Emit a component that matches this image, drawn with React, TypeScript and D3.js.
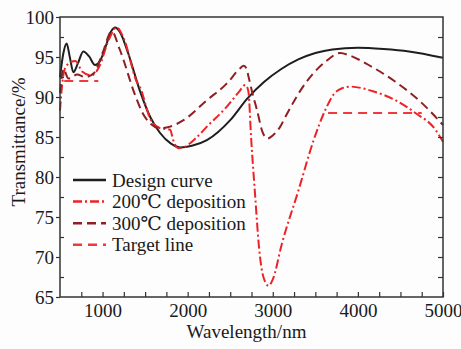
import * as d3 from "d3";
import React, { useRef, useEffect } from "react";

const W = 461;
const H = 349;
const margin = { top: 17, right: 18, bottom: 52, left: 60 };
const width = W - margin.left - margin.right;
const height = H - margin.top - margin.bottom;

// [wavelength nm, transmittance %]
const designCurve = [
  [500, 92.5], [540, 95.5], [578, 96.7], [615, 95], [657, 93.1], [710, 94.2],
  [774, 95.7], [840, 95.1], [912, 94.0], [970, 94.5], [1030, 96.1], [1100, 98.2],
  [1147, 98.7], [1200, 98.2], [1300, 95.5], [1441, 90.7], [1560, 87.5], [1676, 85.5],
  [1800, 84.2], [1912, 83.7], [2050, 83.9], [2226, 84.6], [2500, 87.1], [2700, 89.8],
  [2900, 91.9], [3100, 93.5], [3300, 94.7], [3500, 95.5], [3700, 95.95], [4000, 96.15],
  [4300, 96.0], [4600, 95.7], [5000, 94.9],
];

const dep200 = [
  [500, 88.3], [530, 92], [560, 93.6], [620, 94.3], [680, 94.5], [760, 93.2],
  [870, 92.7], [970, 94], [1060, 96.8], [1167, 98.7], [1250, 97.3], [1402, 91.9],
  [1441, 91.2], [1559, 87.3], [1676, 86.1], [1794, 85.9], [1830, 84.6], [1892, 83.6],
  [1950, 83.7], [2100, 84.9], [2226, 86.3], [2461, 88.8], [2600, 90.6], [2676, 91.5],
  [2700, 91.2], [2716, 90.5], [2745, 85], [2794, 77.5], [2840, 71], [2890, 67.5],
  [2951, 66.4], [3000, 67.2], [3108, 71.7], [3304, 78.4], [3480, 84.6], [3618, 88.4],
  [3720, 90.4], [3814, 91.1], [3912, 91.3], [4167, 90.75], [4441, 89.6], [4676, 88],
  [4912, 85.9], [5000, 84.4],
];

const dep300 = [
  [500, 90.5], [540, 93.5], [600, 92.3], [700, 92.8], [800, 92.5], [900, 93.0],
  [1000, 95.5], [1108, 98.2], [1200, 96], [1382, 90.25], [1470, 88], [1559, 86.7],
  [1676, 86.1], [1794, 86.3], [1951, 87.1], [2226, 89.6], [2461, 91.7], [2618, 93.6],
  [2657, 93.9], [2690, 93.6], [2716, 92.5], [2760, 90.5], [2814, 88.4], [2880, 85.6],
  [2940, 84.8], [3000, 85.2], [3088, 86.3], [3147, 87.5], [3382, 91.7], [3618, 94.4],
  [3794, 95.5], [3900, 95.2], [4127, 94], [4441, 91.9], [4716, 89.6], [5000, 86.5],
];

const targetLow = [[550, 92], [950, 92]];
const targetHigh = [[3650, 88], [4750, 88]];

const xMajor = [1000, 2000, 3000, 4000, 5000];
const yMajor = [65, 70, 75, 80, 85, 90, 95, 100];

const series = [
  { name: "Design curve", data: [designCurve], color: "#1e1e1e", dash: null },
  { name: "200\u2103 deposition", data: [dep200], color: "#ee2226", dash: "9,3,2,3" },
  { name: "300\u2103 deposition", data: [dep300], color: "#8e1f22", dash: "9,5" },
  { name: "Target line", data: [targetLow, targetHigh], color: "#f0393d", dash: "9,6" },
];

const font = "'Liberation Serif', 'DejaVu Serif', serif";

export default function App() {
  const ref = useRef(null);

  useEffect(() => {
    const svg = d3.select(ref.current);
    svg.selectAll("*").remove();

    const x = d3.scaleLinear().domain([500, 5000]).range([0, width]);
    const y = d3.scaleLinear().domain([65, 100]).range([height, 0]);

    const g = svg
      .append("g")
      .attr("transform", `translate(${margin.left},${margin.top})`);

    const line = d3
      .line()
      .x((d) => x(d[0]))
      .y((d) => y(d[1]))
      .curve(d3.curveMonotoneX);

    // curves
    series.forEach((s) => {
      s.data.forEach((pts) => {
        g.append("path")
          .attr("d", line(pts))
          .attr("fill", "none")
          .attr("stroke", s.color)
          .attr("stroke-width", 2)
          .attr("stroke-dasharray", s.dash);
      });
    });

    // bottom axis, ticks pointing in
    const bottom = g
      .append("g")
      .attr("transform", `translate(0,${height})`)
      .call(
        d3
          .axisBottom(x)
          .tickValues(d3.range(750, 5001, 250))
          .tickSizeInner(-5)
          .tickSizeOuter(0)
          .tickPadding(7)
          .tickFormat((d) => (xMajor.includes(d) ? String(d) : ""))
      );

    // left axis: major ticks out, minor ticks in
    const left = g
      .append("g")
      .call(
        d3.axisLeft(y).tickValues(yMajor).tickSizeInner(4).tickSizeOuter(0).tickPadding(2)
      );
    g.append("g").call(
      d3
        .axisLeft(y)
        .tickValues(d3.range(67.5, 100, 5))
        .tickSizeInner(-4)
        .tickSizeOuter(0)
        .tickFormat(() => "")
    );

    // right axis, ticks in
    g.append("g")
      .attr("transform", `translate(${width},0)`)
      .call(
        d3
          .axisRight(y)
          .tickValues(d3.range(67.5, 100, 2.5))
          .tickSizeInner(-5)
          .tickSizeOuter(0)
          .tickFormat(() => "")
      );

    g.selectAll(".domain").remove();
    g.selectAll(".tick line").attr("stroke", "#333").attr("stroke-width", 1.2);
    [bottom, left].forEach((a) =>
      a.selectAll("text").attr("font-family", font).attr("font-size", 19).attr("fill", "#1a1a1a")
    );

    // frame
    g.append("rect")
      .attr("width", width)
      .attr("height", height)
      .attr("fill", "none")
      .attr("stroke", "#333")
      .attr("stroke-width", 1.5);

    // axis titles
    svg
      .append("text")
      .attr("x", margin.left + width / 2 - 5)
      .attr("y", 338)
      .attr("text-anchor", "middle")
      .attr("font-family", font)
      .attr("font-size", 19)
      .attr("fill", "#1a1a1a")
      .text("Wavelength/nm");

    svg
      .append("text")
      .attr("transform", `translate(25,142) rotate(-90)`)
      .attr("text-anchor", "middle")
      .attr("font-family", font)
      .attr("font-size", 19)
      .attr("fill", "#1a1a1a")
      .text("Transmittance/%");

    // legend
    const legend = svg.append("g").attr("transform", "translate(73,180)");
    series.forEach((s, i) => {
      const row = legend.append("g").attr("transform", `translate(0,${i * 21.6})`);
      row
        .append("line")
        .attr("x1", 0)
        .attr("x2", 33)
        .attr("stroke", s.color)
        .attr("stroke-width", 2.5)
        .attr("stroke-dasharray", s.dash);
      row
        .append("text")
        .attr("x", 39)
        .attr("y", 6.5)
        .attr("font-family", font)
        .attr("font-size", 19)
        .attr("fill", "#1a1a1a")
        .text(s.name);
    });
  }, []);

  return (
    <svg
      ref={ref}
      width={W}
      height={H}
      style={{ position: "absolute", left: 0, top: 0, background: "#fdfdfd" }}
    ></svg>
  );
}
